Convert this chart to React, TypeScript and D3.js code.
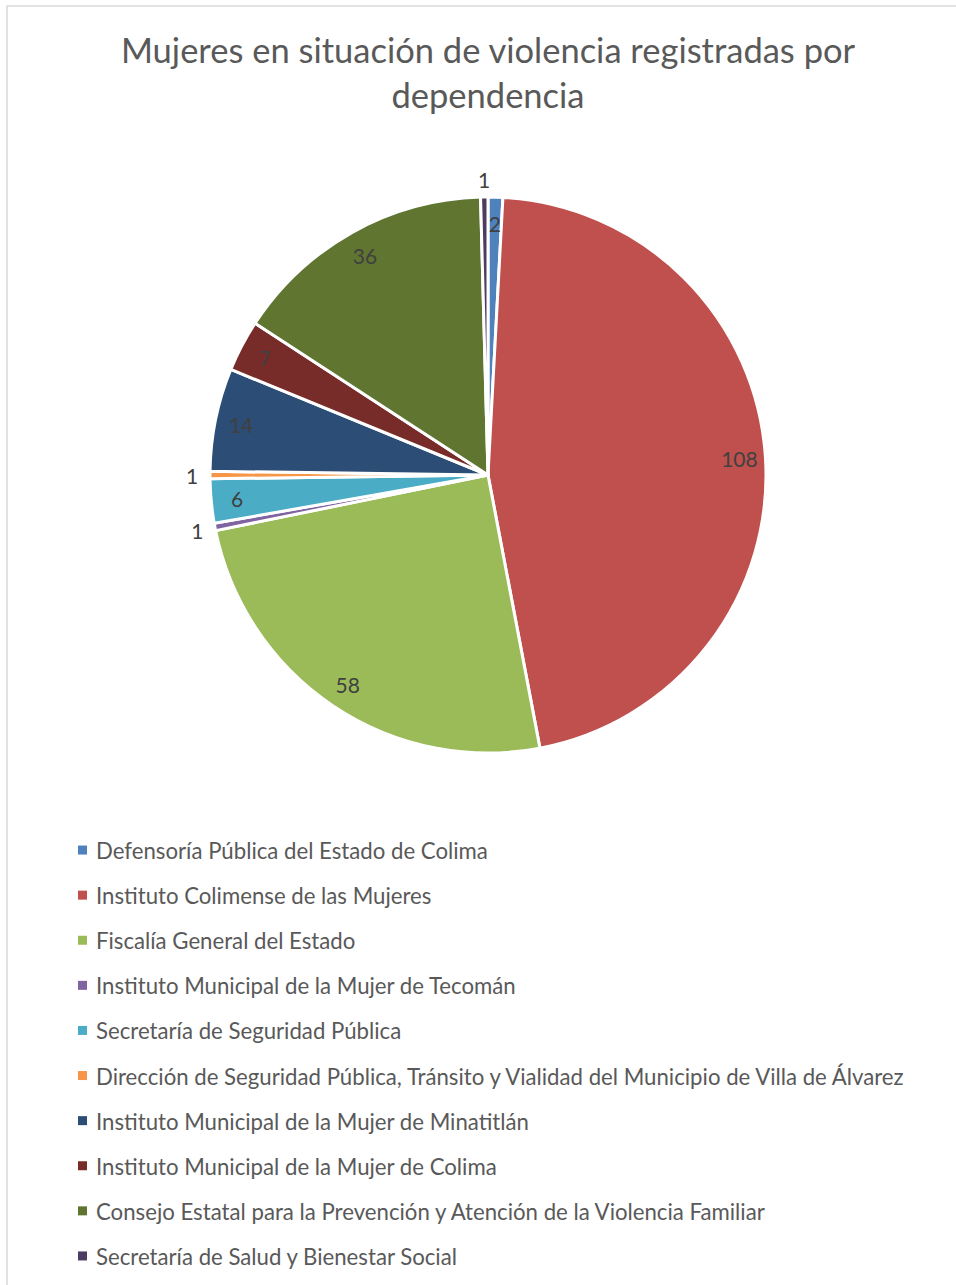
import React from "react";
import * as d3 from "d3";

const titleLines = ["Mujeres en situación de violencia registradas por", "dependencia"];
const categories = [
  "Defensoría Pública del Estado de Colima",
  "Instituto Colimense de las Mujeres",
  "Fiscalía General del Estado",
  "Instituto Municipal de la Mujer de Tecomán",
  "Secretaría de Seguridad Pública",
  "Dirección de Seguridad Pública, Tránsito y Vialidad del Municipio de Villa de Álvarez",
  "Instituto Municipal de la Mujer de Minatitlán",
  "Instituto Municipal de la Mujer de Colima",
  "Consejo Estatal para la Prevención y Atención de la Violencia Familiar",
  "Secretaría de Salud y Bienestar Social",
];
const values = [2, 108, 58, 1, 6, 1, 14, 7, 36, 1];
const colors = [
  "#4F81BD", "#C0504D", "#9BBB59", "#8064A2", "#4BACC6",
  "#F79646", "#2C4D75", "#772C2A", "#5F7530", "#4D3B62",
];

const W = 956;
const H = 1285;
const cx = 488;
const cy = 475;
const R = 278;
const FONT = "Lato, 'Open Sans', sans-serif";

export default function App() {
  const pie = d3.pie<number>().sort(null).value((d) => d)(values);
  const arc = d3.arc<d3.PieArcDatum<number>>().innerRadius(0).outerRadius(R);
  const inner = d3.arc<d3.PieArcDatum<number>>().innerRadius(252).outerRadius(252);
  const outer = d3.arc<d3.PieArcDatum<number>>().innerRadius(296).outerRadius(296);
  const legendY = d3.scaleBand<number>().domain(d3.range(categories.length)).range([828, 1279]);

  return (
    <svg width={W} height={H} style={{ position: "absolute", left: 0, top: 0, background: "#fff" }}>
      <rect x={7} y={6} width={W + 20} height={H + 20} fill="#fff" stroke="#d9d9d9" strokeWidth={1.5} />
      {titleLines.map((t, i) => (
        <text key={i} x={488} y={63 + i * 45} textAnchor="middle" fontFamily={FONT} fontSize={34.5} fill="#595959">
          {t}
        </text>
      ))}
      <g transform={`translate(${cx},${cy})`}>
        {pie.map((p, i) => (
          <path key={i} d={arc(p) || ""} fill={colors[i]} stroke="#fff" strokeWidth={3} strokeLinejoin="round" />
        ))}
        {pie.map((p, i) => {
          const [x, y] = (p.value > 1 ? inner : outer).centroid(p);
          return (
            <text key={"l" + i} x={x} y={y} textAnchor="middle" dominantBaseline="central" fontFamily={FONT} fontSize={21} fill="#404040">
              {p.value}
            </text>
          );
        })}
      </g>
      {categories.map((c, i) => {
        const y = (legendY(i) as number) + legendY.bandwidth() / 2;
        return (
          <g key={c}>
            <rect x={78} y={y - 5} width={9} height={9} fill={colors[i]} />
            <text x={96} y={y} dominantBaseline="central" fontFamily={FONT} fontSize={22.2} fill="#595959">
              {c}
            </text>
          </g>
        );
      })}
    </svg>
  );
}
